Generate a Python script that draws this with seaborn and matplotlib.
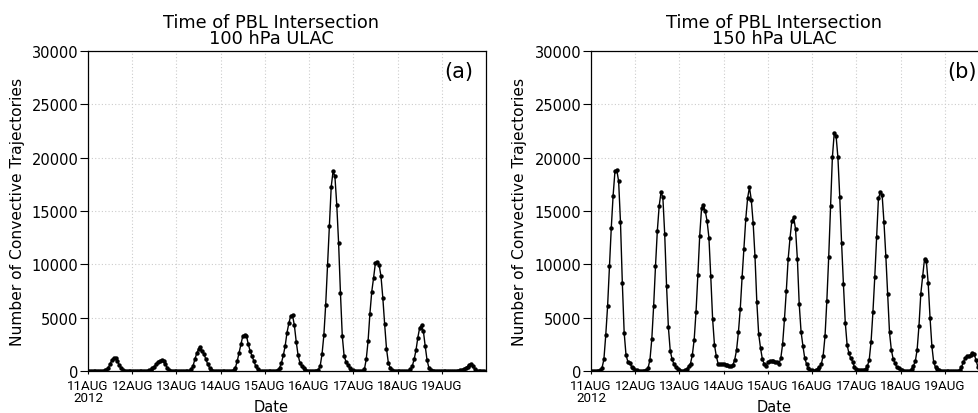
import numpy as np
import pandas as pd
import matplotlib
matplotlib.use("Agg")
import matplotlib.pyplot as plt
import seaborn as sns

# ---------------- data (hourly counts, 11AUG 00Z .. 19AUG 23Z 2012) ----------------
start_time = "2012-08-11 00:00"
end_time = "2012-08-20 00:00"

# 100 hPa ULAC
ulac100_11aug = [0, 0, 0, 0, 0, 0, 0, 0, 0, 50, 130, 300, 650, 1050, 1250, 1200, 900, 560, 300, 120, 40, 0, 0, 0]
ulac100_12aug = [0, 0, 0, 0, 0, 0, 0, 0, 20, 60, 125, 250, 420, 650, 850, 980, 1000, 950, 700, 300, 100, 20, 0, 0]
ulac100_13aug = [0, 0, 0, 0, 0, 0, 0, 40, 150, 470, 1100, 1650, 2030, 2250, 1875, 1560, 1100, 625, 310, 100, 30, 0, 0, 0]
ulac100_14aug = [0, 0, 0, 0, 0, 0, 0, 80, 310, 940, 1720, 2500, 3280, 3340, 3300, 2500, 1875, 1400, 940, 470, 150, 40, 0, 0]
ulac100_15aug = [0, 0, 0, 0, 0, 0, 30, 100, 310, 780, 1470, 2340, 3600, 4470, 5160, 5220, 4280, 2750, 1500, 780, 470, 250, 100, 30]
ulac100_16aug = [0, 0, 0, 0, 20, 100, 470, 1560, 3340, 6220, 9970, 13600, 17280, 18720, 18250, 15600, 12030, 7340, 3280, 1400, 875, 560, 310, 120]
ulac100_17aug = [50, 20, 0, 0, 0, 0, 150, 1100, 2800, 5375, 7440, 8750, 10150, 10200, 9940, 8900, 6875, 4375, 2090, 780, 310, 100, 20, 0]
ulac100_18aug = [0, 0, 0, 0, 0, 0, 30, 150, 470, 1100, 1940, 3125, 4060, 4280, 3750, 2340, 1030, 310, 100, 20, 0, 0, 0, 0]
ulac100_19aug = [0, 0, 0, 0, 0, 0, 0, 0, 0, 30, 60, 120, 200, 300, 420, 550, 680, 450, 150, 30, 0, 0, 0, 0]

# 150 hPa ULAC
ulac150_11aug = [0, 0, 0, 0, 0, 50, 300, 1100, 3340, 6050, 9800, 13400, 16440, 18720, 18840, 17780, 13950, 8270, 3600, 1500, 880, 760, 420, 250]
ulac150_12aug = [125, 50, 20, 10, 10, 20, 60, 300, 1060, 3000, 6100, 9810, 13150, 15470, 16750, 16280, 12840, 8000, 4100, 1900, 1100, 650, 340, 190]
ulac150_13aug = [90, 40, 20, 50, 150, 450, 700, 1500, 2950, 5550, 9000, 12690, 15250, 15560, 15000, 14060, 12500, 8860, 4890, 2460, 1390, 680, 650, 620]
ulac150_14aug = [620, 560, 560, 500, 470, 560, 1060, 1970, 3625, 5810, 8780, 11440, 14250, 16220, 17220, 16030, 13875, 10750, 6440, 3470, 2160, 1125, 650, 500]
ulac150_15aug = [810, 900, 940, 900, 875, 810, 650, 1190, 2530, 4875, 7530, 10500, 12440, 14090, 14400, 13310, 10500, 6280, 3690, 2375, 1190, 650, 280, 125]
ulac150_16aug = [60, 40, 60, 190, 340, 650, 1440, 3250, 6590, 10650, 15440, 20030, 22280, 22060, 20030, 16340, 12000, 8125, 4530, 2440, 1650, 1190, 875, 340]
ulac150_17aug = [190, 90, 90, 90, 125, 190, 450, 1060, 2750, 5500, 8780, 12530, 16190, 16750, 16500, 13940, 10810, 7220, 3625, 1970, 1125, 720, 340, 250]
ulac150_18aug = [125, 60, 30, 20, 20, 40, 190, 500, 900, 2000, 4250, 7250, 8900, 10500, 10300, 8250, 5000, 2350, 800, 340, 190, 60, 20, 0]
ulac150_19aug = [0, 0, 0, 0, 0, 0, 0, 0, 60, 340, 810, 1190, 1375, 1400, 1500, 1650, 1550, 1000, 350, 100, 0, 0, 0, 0]

tick_days = ["2012-08-11", "2012-08-12", "2012-08-13", "2012-08-14", "2012-08-15",
             "2012-08-16", "2012-08-17", "2012-08-18", "2012-08-19"]
tick_labels = ["11AUG\n2012", "12AUG", "13AUG", "14AUG", "15AUG", "16AUG", "17AUG", "18AUG", "19AUG"]
y_ticks = [0, 5000, 10000, 15000, 20000, 25000, 30000]

title_line1 = "Time of PBL Intersection"
titles_line2 = ["100 hPa ULAC", "150 hPa ULAC"]
panel_tags = ["(a)", "(b)"]
x_label = "Date"
y_label = "Number of Convective Trajectories"

# ---------------- build frames ----------------
series_100 = np.concatenate([ulac100_11aug, ulac100_12aug, ulac100_13aug, ulac100_14aug, ulac100_15aug,
                             ulac100_16aug, ulac100_17aug, ulac100_18aug, ulac100_19aug])
series_150 = np.concatenate([ulac150_11aug, ulac150_12aug, ulac150_13aug, ulac150_14aug, ulac150_15aug,
                             ulac150_16aug, ulac150_17aug, ulac150_18aug, ulac150_19aug])
times = pd.date_range(start_time, periods=len(series_100), freq="h")
df_a = pd.DataFrame({"time": times, "count": series_100})
df_b = pd.DataFrame({"time": times, "count": series_150})

# ---------------- figure ----------------
sns.set_style("ticks")
plt.rcParams["font.family"] = ["DejaVu Sans"]
plt.rcParams["text.color"] = "black"
plt.rcParams["xtick.color"] = "black"
plt.rcParams["ytick.color"] = "black"
plt.rcParams["axes.labelcolor"] = "black"

W, H = 979, 414
fig = plt.figure(figsize=(W / 100, H / 100), dpi=100)


def px_rect(left, top, right, bottom):
    return [left / W, 1 - bottom / H, (right - left) / W, (bottom - top) / H]


axes_specs = [
    dict(rect=px_rect(88, 52, 486, 372), df=df_a, title_x=271, ylab_x=18),
    dict(rect=px_rect(591, 52, 989, 372), df=df_b, title_x=774, ylab_x=520),
]

for i, spec in enumerate(axes_specs):
    ax = fig.add_axes(spec["rect"])
    sns.lineplot(data=spec["df"], x="time", y="count", ax=ax, color="black",
                 linewidth=1.0, marker="o", markersize=3.2, markeredgewidth=0,
                 markerfacecolor="black", legend=False)
    ax.set_xlim(pd.Timestamp(start_time), pd.Timestamp(end_time))
    ax.set_ylim(0, 30000)
    ax.set_xticks(pd.to_datetime(tick_days))
    ax.set_xticklabels(tick_labels, family=["Roboto", "DejaVu Sans"], fontsize=9.6,
                       linespacing=0.95, color="black")
    ax.set_yticks(y_ticks)
    ax.set_yticklabels([str(v) for v in y_ticks], fontsize=10.5, color="black")
    ax.tick_params(axis="y", length=5.5, width=0.8, pad=1.5, direction="out", colors="black")
    ax.tick_params(axis="x", length=2.5, width=0.8, pad=3.2, direction="out", colors="black")
    ax.set_xlabel("")
    ax.set_ylabel("")
    ax.grid(True, color="#cccccc", linestyle=(0, (1, 2)), linewidth=0.8)
    for s in ax.spines.values():
        s.set_color("black")
        s.set_linewidth(0.9)
        s.set_visible(True)
    ax.text(0.932, 0.9375, panel_tags[i], transform=ax.transAxes, ha="center", va="center",
            fontsize=15, color="black")

    tx = spec["title_x"]
    fig.text(tx / W, 1 - 31 / H, title_line1 + "\n" + titles_line2[i], ha="center", va="center",
             fontsize=12.8, linespacing=0.92, color="black")
    fig.text(tx / W, 1 - 408 / H, x_label, ha="center", va="center", fontsize=10.5, color="black")
    fig.text(spec["ylab_x"] / W, 1 - 212 / H, y_label, ha="center", va="center",
             rotation=90, fontsize=11.2, color="black")

fig.savefig("out.png", dpi=100)
